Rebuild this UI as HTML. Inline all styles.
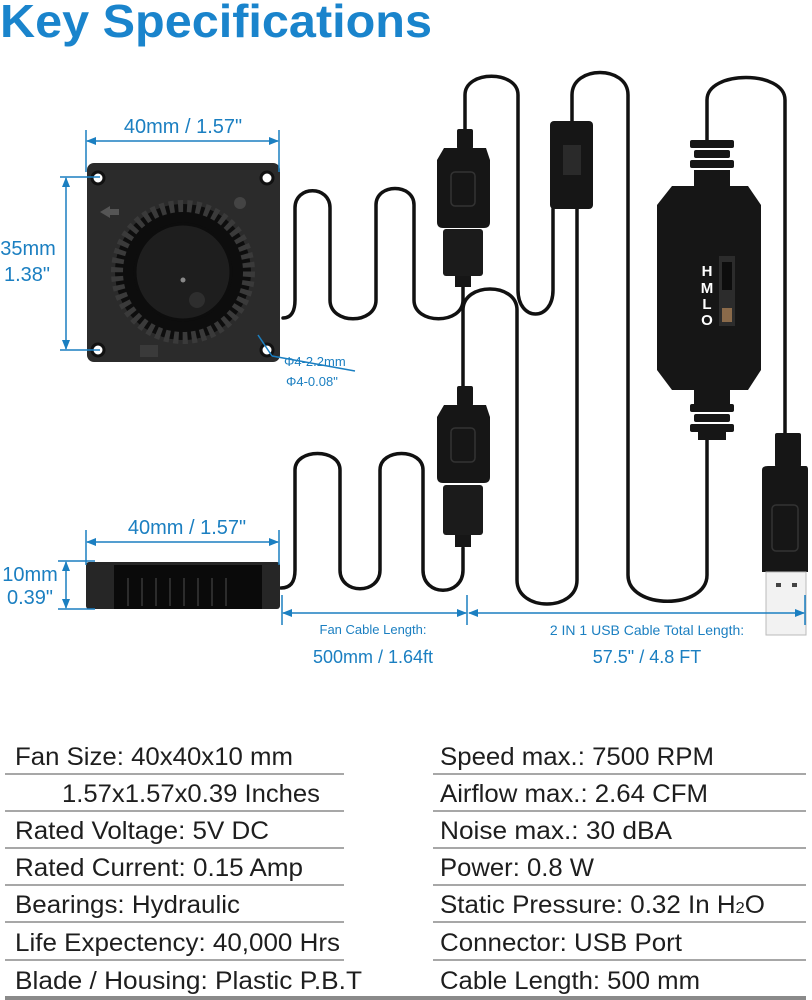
<!DOCTYPE html>
<html><head><meta charset="utf-8"><style>
html,body{margin:0;padding:0;background:#fff;}
svg{display:block;}
text{font-family:"Liberation Sans",sans-serif;}
</style></head><body>
<svg width="812" height="1000" viewBox="0 0 812 1000" xmlns="http://www.w3.org/2000/svg">
<defs>
<marker id="ar" markerWidth="10" markerHeight="8" refX="9" refY="4" orient="auto" markerUnits="userSpaceOnUse"><path d="M0,0 L10,4 L0,8 Z" fill="#1b7fc1"/></marker>
<marker id="al" markerWidth="10" markerHeight="8" refX="1" refY="4" orient="auto" markerUnits="userSpaceOnUse"><path d="M10,0 L0,4 L10,8 Z" fill="#1b7fc1"/></marker>
</defs>
<text x="0" y="37" font-size="46" font-weight="bold" fill="#1a84cc" textLength="432" lengthAdjust="spacingAndGlyphs">Key Specifications</text>

<g fill="none" stroke="#111" stroke-width="3.5" stroke-linecap="round">
<path d="M283,318 C292,318 295,310 295,300 V208 C295,185 330,185 330,208 V300 C330,325 376,325 376,300 V205 C376,183 414,183 414,205 V300 C414,325 463,325 463,300 V286"/>
<path d="M465,130 V95 C465,70 518,70 518,95 V290 C518,322 553,322 553,290 V209"/>
<path d="M572,121 V95 C572,65 628,65 628,95 V575 C628,610 707,610 707,575 V440"/>
<path d="M577,209 V580 C577,612 517,612 517,580 V310 C517,282 463,282 463,310 V386"/>
<path d="M707,146 V100 C707,70 785,70 785,100 V433"/>
<path d="M281,588 C292,588 295,580 295,570 V470 C295,448 340,448 340,470 V570 C340,595 380,595 380,570 V470 C380,448 423,448 423,470 V570 C423,597 463,597 463,570 V548"/>
</g>

<g fill="#161616">
<rect x="457" y="129" width="16" height="20" rx="2"/>
<path d="M444,148 H486 L490,160 V222 Q490,228 484,228 H443 Q437,228 437,222 V160 Z"/>
<rect x="443" y="229" width="40" height="47" rx="3" fill="#1b1b1b"/>
<rect x="455" y="276" width="16" height="11"/>
<rect x="451" y="172" width="24" height="34" rx="4" fill="none" stroke="#333" stroke-width="1.5"/>
<rect x="457" y="386" width="16" height="20" rx="2"/>
<path d="M444,405 H486 L490,417 V477 Q490,483 484,483 H443 Q437,483 437,477 V417 Z"/>
<rect x="443" y="485" width="40" height="50" rx="3" fill="#1b1b1b"/>
<rect x="455" y="535" width="16" height="12"/>
<rect x="451" y="428" width="24" height="34" rx="4" fill="none" stroke="#333" stroke-width="1.5"/>
<rect x="550" y="121" width="43" height="88" rx="4"/>
<rect x="563" y="145" width="18" height="30" fill="#2a2a2a"/>
<rect x="690" y="140" width="44" height="8" rx="2"/><rect x="694" y="150" width="36" height="8" rx="2"/><rect x="690" y="160" width="44" height="8" rx="2"/><rect x="694" y="170" width="36" height="18"/>
<path d="M672,186 H748 L761,205 V370 L748,390 H672 L657,370 V205 Z"/>
<rect x="694" y="390" width="36" height="14"/><rect x="690" y="404" width="44" height="8" rx="2"/><rect x="694" y="414" width="36" height="8" rx="2"/><rect x="690" y="424" width="44" height="8" rx="2"/><rect x="698" y="432" width="28" height="8"/>
<rect x="719" y="256" width="16" height="70" fill="#2c2c2c"/>
<rect x="722" y="262" width="10" height="28" fill="#0d0d0d"/>
<rect x="722" y="308" width="10" height="14" fill="#8a6a4a"/>
<rect x="775" y="433" width="26" height="34" rx="2"/>
<path d="M768,466 H806 Q808,466 808,470 V572 H762 V470 Q762,466 768,466 Z"/>
<rect x="772" y="505" width="26" height="46" rx="4" fill="none" stroke="#333" stroke-width="1.5"/>
</g>
<rect x="766" y="572" width="40" height="63" fill="#f2f2f2" stroke="#bbb" stroke-width="1"/>
<rect x="776" y="583" width="5" height="4" fill="#444"/><rect x="792" y="583" width="5" height="4" fill="#444"/>
<g font-size="15" font-weight="bold" fill="#fff" text-anchor="middle">
<text x="707" y="276">H</text><text x="707" y="293">M</text><text x="707" y="309">L</text><text x="707" y="325">O</text>
</g>

<rect x="87" y="163" width="193" height="199" rx="7" fill="#2b2b2b"/>
<g fill="#fff" stroke="#111" stroke-width="3">
<circle cx="98" cy="178" r="6"/><circle cx="267" cy="178" r="6"/><circle cx="98" cy="350" r="6"/><circle cx="267" cy="350" r="6"/>
</g>
<circle cx="240" cy="203" r="6" fill="#444"/>
<path d="M100,212 L110,206 V218 Z M110,209 H119 V215 H110" fill="#555"/>
<circle cx="183" cy="272" r="68" fill="#0d0d0d"/>
<circle cx="183" cy="272" r="66" fill="none" stroke="#3a3a3a" stroke-width="12" stroke-dasharray="5 4"/>
<circle cx="183" cy="272" r="48" fill="#1e1e1e" stroke="#0d0d0d" stroke-width="3"/>
<circle cx="183" cy="280" r="2.5" fill="#888"/>
<circle cx="197" cy="300" r="8" fill="#2e2e2e"/>
<rect x="140" y="345" width="18" height="12" fill="#3a3a3a"/>

<rect x="86" y="562" width="194" height="47" rx="3" fill="#262626"/>
<rect x="114" y="565" width="148" height="44" fill="#0a0a0a"/>
<g stroke="#2c2c2c" stroke-width="2"><line x1="128" y1="578" x2="128" y2="606"/><line x1="142" y1="578" x2="142" y2="606"/><line x1="156" y1="578" x2="156" y2="606"/><line x1="170" y1="578" x2="170" y2="606"/><line x1="184" y1="578" x2="184" y2="606"/><line x1="198" y1="578" x2="198" y2="606"/><line x1="212" y1="578" x2="212" y2="606"/><line x1="226" y1="578" x2="226" y2="606"/></g>

<g stroke="#1b7fc1" stroke-width="1.5" fill="none">
<line x1="86" y1="130" x2="86" y2="172"/><line x1="279" y1="130" x2="279" y2="172"/>
<line x1="87" y1="141" x2="278" y2="141" marker-start="url(#al)" marker-end="url(#ar)"/>
<line x1="60" y1="177" x2="100" y2="177"/><line x1="60" y1="350" x2="100" y2="350"/>
<line x1="66" y1="178" x2="66" y2="349" marker-start="url(#al)" marker-end="url(#ar)"/>
<line x1="258" y1="335" x2="272" y2="356"/><line x1="272" y1="356" x2="355" y2="371"/>
<line x1="86" y1="530" x2="86" y2="565"/><line x1="279" y1="530" x2="279" y2="565"/>
<line x1="87" y1="542" x2="278" y2="542" marker-start="url(#al)" marker-end="url(#ar)"/>
<line x1="58" y1="561" x2="95" y2="561"/><line x1="58" y1="609" x2="95" y2="609"/>
<line x1="66" y1="562" x2="66" y2="608" marker-start="url(#al)" marker-end="url(#ar)"/>
<line x1="282" y1="595" x2="282" y2="625"/><line x1="467" y1="595" x2="467" y2="625"/><line x1="805" y1="595" x2="805" y2="625"/>
<line x1="283" y1="613" x2="466" y2="613" marker-start="url(#al)" marker-end="url(#ar)"/>
<line x1="469" y1="613" x2="804" y2="613" marker-start="url(#al)" marker-end="url(#ar)"/>
</g>
<g fill="#1b7fc1">
<text x="183" y="133" font-size="20" text-anchor="middle">40mm / 1.57"</text>
<text x="28" y="255" font-size="20" text-anchor="middle">35mm</text>
<text x="27" y="281" font-size="20" text-anchor="middle">1.38"</text>
<text x="284" y="366" font-size="13">Φ4-2.2mm</text>
<text x="286" y="386" font-size="13">Φ4-0.08"</text>
<text x="187" y="534" font-size="20" text-anchor="middle">40mm / 1.57"</text>
<text x="30" y="581" font-size="20" text-anchor="middle">10mm</text>
<text x="30" y="604" font-size="20" text-anchor="middle">0.39"</text>
<text x="373" y="634" font-size="13" text-anchor="middle">Fan Cable Length:</text>
<text x="373" y="663" font-size="18" text-anchor="middle">500mm / 1.64ft</text>
<text x="647" y="635" font-size="14" text-anchor="middle">2 IN 1 USB Cable Total Length:</text>
<text x="647" y="663" font-size="18" text-anchor="middle">57.5" / 4.8 FT</text>
</g>

<g stroke="#8a8a8a" stroke-width="1.5">
<line x1="5" y1="774" x2="344" y2="774"/><line x1="5" y1="811" x2="344" y2="811"/><line x1="5" y1="848" x2="344" y2="848"/><line x1="5" y1="885" x2="344" y2="885"/><line x1="5" y1="922" x2="344" y2="922"/><line x1="5" y1="960" x2="344" y2="960"/>
<line x1="433" y1="774" x2="806" y2="774"/><line x1="433" y1="811" x2="806" y2="811"/><line x1="433" y1="848" x2="806" y2="848"/><line x1="433" y1="885" x2="806" y2="885"/><line x1="433" y1="922" x2="806" y2="922"/><line x1="433" y1="960" x2="806" y2="960"/>
</g>
<rect x="5" y="996" width="801" height="4" fill="#8a8a8a"/>
<g fill="#1e1e1e" font-size="25">
<text x="15" y="765" textLength="278" lengthAdjust="spacingAndGlyphs">Fan Size: 40x40x10 mm</text>
<text x="62" y="802" textLength="258" lengthAdjust="spacingAndGlyphs">1.57x1.57x0.39 Inches</text>
<text x="15" y="839" textLength="254" lengthAdjust="spacingAndGlyphs">Rated Voltage: 5V DC</text>
<text x="15" y="876" textLength="288" lengthAdjust="spacingAndGlyphs">Rated Current: 0.15 Amp</text>
<text x="15" y="913" textLength="225" lengthAdjust="spacingAndGlyphs">Bearings: Hydraulic</text>
<text x="15" y="951" textLength="325" lengthAdjust="spacingAndGlyphs">Life Expectency: 40,000 Hrs</text>
<text x="15" y="989" textLength="347" lengthAdjust="spacingAndGlyphs">Blade / Housing: Plastic P.B.T</text>
<text x="440" y="765" textLength="274" lengthAdjust="spacingAndGlyphs">Speed max.: 7500 RPM</text>
<text x="440" y="802" textLength="268" lengthAdjust="spacingAndGlyphs">Airflow max.: 2.64 CFM</text>
<text x="440" y="839" textLength="232" lengthAdjust="spacingAndGlyphs">Noise max.: 30 dBA</text>
<text x="440" y="876" textLength="154" lengthAdjust="spacingAndGlyphs">Power: 0.8 W</text>
<text x="440" y="913" textLength="325" lengthAdjust="spacingAndGlyphs">Static Pressure: 0.32 In H<tspan font-size="16">2</tspan>O</text>
<text x="440" y="951" textLength="242" lengthAdjust="spacingAndGlyphs">Connector: USB Port</text>
<text x="440" y="989" textLength="260" lengthAdjust="spacingAndGlyphs">Cable Length: 500 mm</text>
</g>
</svg>
</body></html>
